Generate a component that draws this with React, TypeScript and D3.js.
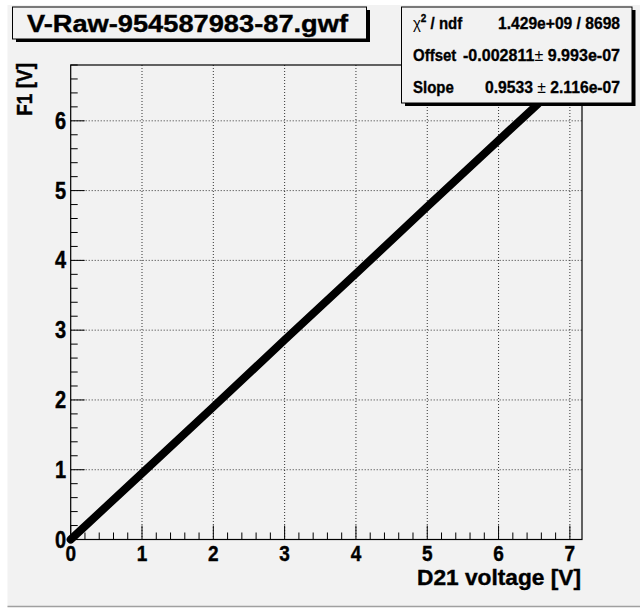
import React from "react";
import * as d3 from "d3";

const titleText = "V-Raw-954587983-87.gwf";
const xTitle = "D21 voltage [V]";
const yTitle = "F1 [V]";
const xTicks = [0, 1, 2, 3, 4, 5, 6, 7];
const yTicks = [0, 1, 2, 3, 4, 5, 6];
const xDomain = [0, 7.17];
const yDomain = [0, 6.8];
// data (thick band of points)
const dataX = [0, 1, 2, 3, 4, 5, 6, 6.55];
const dataY = [0, 0.95, 1.9, 2.86, 3.81, 4.77, 5.72, 6.24];
const statLabels = ["ndf", "Offset", "Slope"];
const statValues = ["1.429e+09 / 8698", "-0.002811", "0.9533"];
const statErrors = ["", "9.993e-07", "2.116e-07"];

const FONT = "'Liberation Sans', Arial, Helvetica, sans-serif";
const BG = "#f2f2f2";

function T({ x, y, sy = 1.2, anchor = "start", size, len, sw = 0.35, children }: any) {
  return (
    <text
      transform={`translate(${x},${y}) scale(1,${sy})`}
      textAnchor={anchor}
      fontSize={size}
      fontWeight="bold"
      stroke="#000"
      strokeWidth={sw}
      textLength={len}
      lengthAdjust={len ? "spacingAndGlyphs" : undefined}
    >
      {children}
    </text>
  );
}

export default function App() {
  const L = 70.7, R = 582, Tp = 65, B = 539.5;
  const x = d3.scaleLinear().domain(xDomain).range([L, R]);
  const y = d3.scaleLinear().domain(yDomain).range([B, Tp]);
  const line = d3.line<number>().x((_, i) => x(dataX[i])).y((_, i) => y(dataY[i]));
  const minorX = d3.range(0, xDomain[1] + 1e-9, 0.2).filter((v) => Math.abs(v - Math.round(v)) > 1e-6);
  const minorY = d3.range(0, yDomain[1] + 1e-9, 0.2).filter((v) => Math.abs(v - Math.round(v)) > 1e-6);

  const statRowY = [29, 61, 93];
  const statWidths = [122, 157, 135];
  return (
    <svg width={644} height={608} style={{ position: "absolute", left: 0, top: 0 }} fontFamily={FONT}>
      <rect x={0} y={0} width={644} height={608} fill="#ffffff" />
      <rect x={7.5} y={5} width={632.5} height={602} fill={BG} />
      <line x1={7.5} x2={640} y1={606.5} y2={606.5} stroke="#a0a0a0" strokeWidth={1.5} />

      {/* grid */}
      {xTicks.filter((v) => v > 0).map((v) => (
        <line key={"gx" + v} x1={x(v)} x2={x(v)} y1={Tp} y2={B} stroke="#333" strokeWidth={1} strokeDasharray="1,2" />
      ))}
      {yTicks.filter((v) => v > 0).map((v) => (
        <line key={"gy" + v} x1={L} x2={R} y1={y(v)} y2={y(v)} stroke="#333" strokeWidth={1} strokeDasharray="1,2" />
      ))}

      {/* frame */}
      <rect x={L} y={Tp} width={R - L} height={B - Tp} fill="none" stroke="#000" strokeWidth={1.2} />

      {/* ticks */}
      {xTicks.map((v) => (
        <line key={"tx" + v} x1={x(v)} x2={x(v)} y1={B} y2={B - 14} stroke="#000" strokeWidth={1} />
      ))}
      {minorX.map((v) => (
        <line key={"mx" + v} x1={x(v)} x2={x(v)} y1={B} y2={B - 7} stroke="#000" strokeWidth={1} />
      ))}
      {yTicks.map((v) => (
        <line key={"ty" + v} x1={L} x2={L + 14} y1={y(v)} y2={y(v)} stroke="#000" strokeWidth={1} />
      ))}
      {minorY.map((v) => (
        <line key={"my" + v} x1={L} x2={L + 7} y1={y(v)} y2={y(v)} stroke="#000" strokeWidth={1} />
      ))}

      {/* data */}
      <path d={line(dataX) || ""} fill="none" stroke="#000" strokeWidth={8} strokeLinecap="round" />

      {/* tick labels */}
      {xTicks.map((v) => (
        <T key={"lx" + v} x={x(v)} y={561} anchor="middle" size={19}>{v}</T>
      ))}
      {yTicks.map((v) => (
        <T key={"ly" + v} x={66} y={y(v) + 8} anchor="end" size={20}>{v}</T>
      ))}

      {/* axis titles */}
      <T x={581} y={585} anchor="end" size={19} sy={1.12} len={164}>{xTitle}</T>
      <text transform={`translate(32,63) rotate(-90) scale(1,1.12)`} textAnchor="end" fontSize={19} fontWeight="bold" stroke="#000" strokeWidth={0.35}>{yTitle}</text>

      {/* title box */}
      <rect x={16} y={10} width={354} height={32} fill="#000" />
      <rect x={12.5} y={7} width={354} height={32} fill={BG} stroke="#000" strokeWidth={1} />
      <T x={27} y={32} size={23} sy={1.08} len={321}>{titleText}</T>

      {/* stats box */}
      <rect x={405} y={10} width={230.5} height={96} fill="#000" />
      <rect x={401.5} y={7} width={230.5} height={96} fill={BG} stroke="#000" strokeWidth={1} />
      <text transform={`translate(413,${statRowY[0]}) scale(1,1.12)`} fontSize={15} fontWeight="bold" stroke="#000" strokeWidth={0.3}>
        <tspan fontWeight="normal" strokeWidth={0}>χ</tspan>
        <tspan fontSize={10} dy={-6}>2</tspan>
        <tspan dy={6}>{" / " + statLabels[0]}</tspan>
      </text>
      <T x={620} y={statRowY[0]} anchor="end" size={15} sy={1.12} sw={0.3} len={statWidths[0]}>{statValues[0]}</T>
      {[1, 2].map((i) => (
        <g key={"st" + i}>
          <T x={413} y={statRowY[i]} size={15} sy={1.12} sw={0.3}>{statLabels[i]}</T>
          <T x={620} y={statRowY[i]} anchor="end" size={15} sy={1.12} sw={0.3} len={statWidths[i]}>
            {statValues[i]}
            <tspan fontWeight="normal" strokeWidth={0}>{i === 1 ? "\u00b1 " : " \u00b1 "}</tspan>
            {statErrors[i]}
          </T>
        </g>
      ))}
    </svg>
  );
}
